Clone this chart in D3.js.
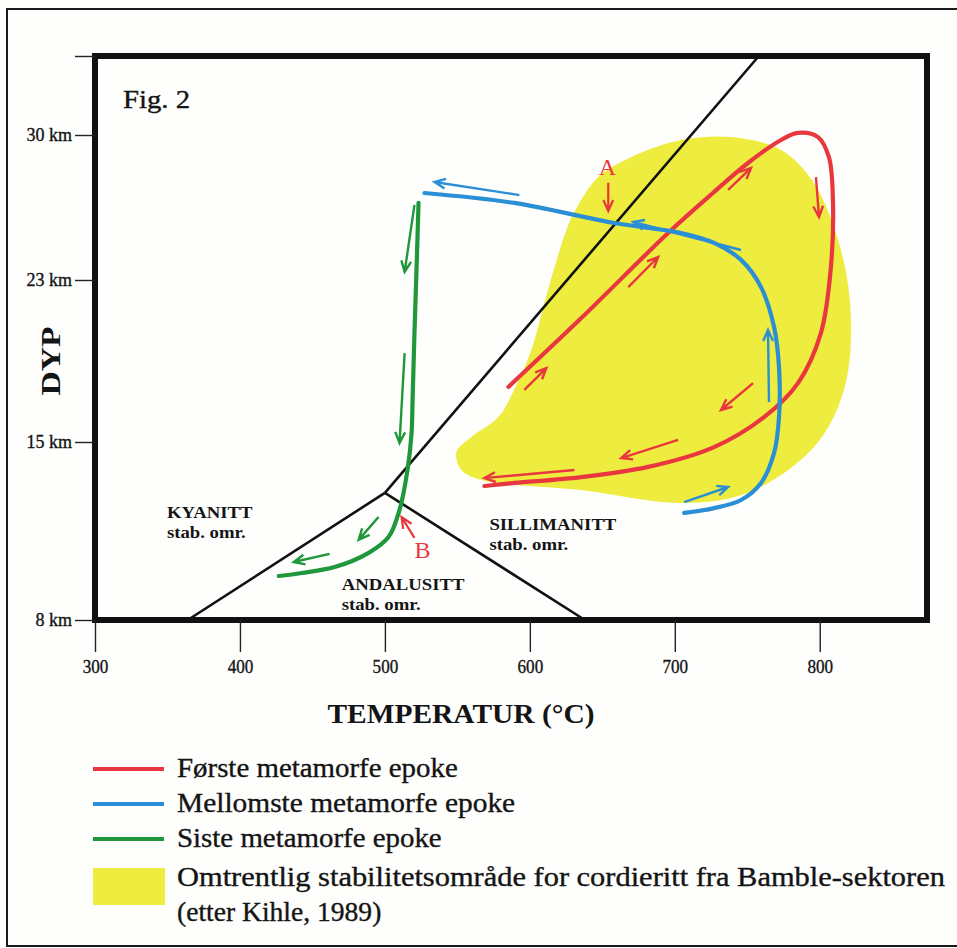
<!DOCTYPE html>
<html>
<head>
<meta charset="utf-8">
<script src="https://cdn.jsdelivr.net/npm/d3@7"></script>
<style>
html, body { margin: 0; padding: 0; background: #fefefd; }
svg { display: block; }
text { font-family: "Liberation Serif", "Times New Roman", serif; fill: #141414; }
.ink { stroke: #141414; stroke-width: 0.35px; }
</style>
</head>
<body>
<svg id="chart" width="957" height="948"></svg>
<script>
const tempTicks = [300, 400, 500, 600, 700, 800]
const depthTicks = [8, 15, 23, 30]
const depthLabels = ['8 km', '15 km', '23 km', '30 km']
const tempMin = 300
const tempMax = 874
const depthTop = 33.8

// phase boundaries (T in °C, depth in km)
const kyAnd = [[500, 13], [364, 8]]
const andSil = [[500, 13], [638, 8]]
const kySil = [[500, 13], [758, 33.8]]

// cordieritt stability field (outline)
const cordieritt = [
    [738.8, 29.9], [773.3, 29.28], [796, 27.68], [814.6, 24.45], [821.5, 21.17],
    [816.7, 17.57], [796, 14.8], [750.5, 13.0], [704.4, 12.6], [635.5, 13.11],
    [566.6, 13.51], [552.8, 13.9], [549.4, 14.61], [559.7, 15.25], [578.3, 16.23],
    [590.7, 17.81], [601, 19.54], [612.5, 22.51], [624.5, 25.27], [631.5, 26.38],
    [647.2, 27.97], [669.9, 28.94], [704.4, 29.76]
]

// P-T paths
const forste = [
    [585.2, 17.72], [635.5, 21.12], [695.4, 25.27], [727.1, 27.25], [750.5, 28.65],
    [773.3, 29.76], [785, 30.1], [798.8, 29.9], [806.3, 28.94], [809.1, 26.86],
    [807.7, 23.63], [800.8, 20.38], [785, 17.91], [761.6, 16.23], [727.1, 14.8],
    [681.6, 14.02], [635.5, 13.62], [589.3, 13.39], [568.7, 13.27]
]
const mellomste = [
    [706.5, 12.21], [727.1, 12.4], [745.7, 12.72], [759.5, 13.39], [768.5, 14.57],
    [771.9, 16.23], [771.9, 18.7], [768.5, 20.68], [759.5, 22.65], [745.7, 23.97],
    [727.1, 24.79], [704.4, 25.27], [658.2, 25.75], [589.3, 26.72], [527.3, 27.2]
]
const siste = [
    [523.2, 26.72], [521.8, 23.48], [520.4, 20.38], [519.1, 17.07], [518.4, 15.44],
    [515.6, 13.9], [510.1, 12.33], [502.5, 11.26], [488.8, 10.64], [465.3, 10.08],
    [442.6, 9.85], [426.8, 9.73]
]

// direction arrows [from, to]
const forsteArrows = [
    [[596.2, 17.57], [611.4, 18.65]],
    [[667.9, 22.65], [688.5, 24.11]],
    [[736.8, 27.35], [752.6, 28.41]],
    [[797.4, 27.97], [799.5, 26.04]],
    [[754.0, 17.91], [731.9, 16.58]],
    [[702.3, 15.1], [663.0, 14.37]],
    [[630.7, 13.9], [568.7, 13.58]]
]
const mellomsteArrows = [
    [[706.5, 12.64], [736.8, 13.23]],
    [[765.0, 16.98], [764.3, 20.53]],
    [[745.7, 24.45], [671.3, 25.8]],
    [[592.8, 27.1], [534.2, 27.73]]
]
const sisteArrows = [
    [[520.4, 26.62], [513.6, 23.39]],
    [[513.6, 19.39], [510.1, 14.96]],
    [[495.6, 12.05], [481.9, 11.15]],
    [[461.9, 10.6], [437.1, 10.28]]
]
const markA = { label: 'A', pos: [653.5, 28.05], arrow: [[654.1, 27.7], [654.1, 26.33]] }
const markB = { label: 'B', pos: [526.0, 10.44], arrow: [[520.4, 11.23], [511.5, 12.05]] }

const phaseNames = ['KYANITT', 'SILLIMANITT', 'ANDALUSITT']
const phasePos = [[349.6, 12.01], [572.1, 11.54], [470.2, 9.18]]
const phaseSub = 'stab. omr.'

const legendNames = ['Første metamorfe epoke', 'Mellomste metamorfe epoke', 'Siste metamorfe epoke']
const legendArea = ['Omtrentlig stabilitetsområde for cordieritt fra Bamble-sektoren', '(etter Kihle, 1989)']

const RED = '#e9373f'
const BLUE = '#2b8fd5'
const GREEN = '#1f973a'
const YELLOW = '#eeec3e'

const svg = d3.select('#chart')

const x = d3.scaleLinear().domain([tempMin, tempMax]).range([95, 927])
const y = d3.scaleLinear().domain([8, 15, 23, 30, depthTop]).range([620, 442, 280, 135, 56])

function stretch(sel, k) {
    sel.each(function () {
        const w = this.getComputedTextLength()
        d3.select(this).attr('textLength', w * k).attr('lengthAdjust', 'spacingAndGlyphs')
    })
}

function arrowPath(a, b) {
    const x0 = x(a[0]), y0 = y(a[1]), x1 = x(b[0]), y1 = y(b[1])
    const ang = Math.atan2(y0 - y1, x0 - x1)
    const L = 12, s = 0.42
    const p = d3.path()
    p.moveTo(x0, y0)
    p.lineTo(x1, y1)
    p.moveTo(x1 + L * Math.cos(ang + s), y1 + L * Math.sin(ang + s))
    p.lineTo(x1, y1)
    p.lineTo(x1 + L * Math.cos(ang - s), y1 + L * Math.sin(ang - s))
    return p.toString()
}

// outer page border
svg.append('rect')
    .attr('x', 7).attr('y', 9).attr('width', 960).attr('height', 937)
    .attr('fill', 'none').attr('stroke', '#1a1a1a').attr('stroke-width', 2)

const plot = svg.append('g')

// cordieritt field
plot.append('path')
    .datum(cordieritt)
    .attr('d', d3.line().x(d => x(d[0])).y(d => y(d[1])).curve(d3.curveCatmullRomClosed))
    .attr('fill', YELLOW)

// phase boundaries
const straight = d3.line().x(d => x(d[0])).y(d => y(d[1]))
plot.selectAll('path.phase')
    .data([kyAnd, andSil, kySil])
    .join('path')
    .attr('class', 'phase')
    .attr('d', straight)
    .attr('fill', 'none')
    .attr('stroke', '#111')
    .attr('stroke-width', 2.6)

// P-T paths
const smooth = d3.line().x(d => x(d[0])).y(d => y(d[1])).curve(d3.curveCatmullRom.alpha(0.5))
const paths = [
    { pts: forste, arrows: forsteArrows, color: RED },
    { pts: mellomste, arrows: mellomsteArrows, color: BLUE },
    { pts: siste, arrows: sisteArrows, color: GREEN }
]
paths.forEach(p => {
    plot.append('path')
        .datum(p.pts)
        .attr('d', smooth)
        .attr('fill', 'none')
        .attr('stroke', p.color)
        .attr('stroke-width', 4.2)
        .attr('stroke-linecap', 'round')
    plot.selectAll(null)
        .data(p.arrows)
        .join('path')
        .attr('d', d => arrowPath(d[0], d[1]))
        .attr('fill', 'none')
        .attr('stroke', p.color)
        .attr('stroke-width', 2.4)
})

// A and B markers
;[markA, markB].forEach(m => {
    plot.append('path')
        .attr('d', arrowPath(m.arrow[0], m.arrow[1]))
        .attr('fill', 'none')
        .attr('stroke', RED)
        .attr('stroke-width', 2.2)
    plot.append('text')
        .attr('x', x(m.pos[0]))
        .attr('y', y(m.pos[1]))
        .attr('text-anchor', 'middle')
        .style('font-size', '24px')
        .style('fill', RED)
        .text(m.label)
})

// phase labels
phaseNames.forEach((name, i) => {
    const g = plot.append('g')
        .attr('transform', `translate(${x(phasePos[i][0])},${y(phasePos[i][1])})`)
    g.append('text')
        .style('font-size', '17.5px').style('font-weight', 'bold')
        .text(name)
        .call(stretch, 1.07)
    g.append('text')
        .attr('y', 20)
        .style('font-size', '17.5px').style('font-weight', 'bold')
        .text(phaseSub)
        .call(stretch, 1.07)
})

svg.append('text')
    .attr('class', 'ink')
    .attr('x', 123).attr('y', 108)
    .style('font-size', '25px')
    .text('Fig. 2')
    .call(stretch, 1.15)

// frame
svg.append('rect')
    .attr('x', x(tempMin)).attr('y', y(depthTop))
    .attr('width', x(tempMax) - x(tempMin))
    .attr('height', y(8) - y(depthTop))
    .attr('fill', 'none')
    .attr('stroke', '#111')
    .attr('stroke-width', 6)

// x axis
const xAxis = svg.append('g')
    .attr('transform', `translate(0,${y(8)})`)
    .call(d3.axisBottom(x).tickValues(tempTicks).tickSize(32).tickPadding(8))
xAxis.select('.domain').remove()
xAxis.selectAll('.tick line').attr('stroke', '#222').attr('stroke-width', 1.4)
xAxis.selectAll('.tick text')
    .attr('class', 'ink')
    .style('font-size', '18px')
    .style('font-family', '"Liberation Serif", serif')
    .attr('fill', '#141414')
    .call(stretch, 0.95)

// y axis
const yAxis = svg.append('g')
    .attr('transform', `translate(${x(tempMin)},0)`)
    .call(d3.axisLeft(y).tickValues(depthTicks.concat([depthTop]))
        .tickSize(20).tickPadding(3)
        .tickFormat(d => {
            const i = depthTicks.indexOf(d)
            return i < 0 ? '' : depthLabels[i]
        }))
yAxis.select('.domain').remove()
yAxis.selectAll('.tick line').attr('stroke', '#222').attr('stroke-width', 1.4)
yAxis.selectAll('.tick text')
    .attr('class', 'ink')
    .style('font-size', '18px')
    .style('font-family', '"Liberation Serif", serif')
    .attr('fill', '#141414')

svg.append('text')
    .attr('transform', `translate(60,${(y(15) + y(23)) / 2}) rotate(-90)`)
    .attr('text-anchor', 'middle')
    .style('font-size', '28px').style('font-weight', 'bold')
    .text('DYP')
    .call(stretch, 1.2)

svg.append('text')
    .attr('x', (x(tempMin) + x(tempMax)) / 2 - 50)
    .attr('y', 723)
    .attr('text-anchor', 'middle')
    .style('font-size', '27.5px').style('font-weight', 'bold')
    .text('TEMPERATUR (°C)')
    .call(stretch, 1.07)

// legend
const legend = svg.append('g')
const legendColors = [RED, BLUE, GREEN]
const legendStretch = [1.09, 1.11, 1.09]
legendNames.forEach((name, i) => {
    const cy = 769 + i * 35
    legend.append('line')
        .attr('x1', 93).attr('x2', 164)
        .attr('y1', cy).attr('y2', cy)
        .attr('stroke', legendColors[i])
        .attr('stroke-width', 4)
    legend.append('text')
        .attr('class', 'ink')
        .attr('x', 177).attr('y', cy + 8)
        .style('font-size', '26.5px')
        .text(name)
        .call(stretch, legendStretch[i])
})
legend.append('rect')
    .attr('x', 93).attr('y', 868)
    .attr('width', 72).attr('height', 37)
    .attr('fill', YELLOW)
const areaStretch = [1.148, 1.04]
legendArea.forEach((t, i) => {
    legend.append('text')
        .attr('class', 'ink')
        .attr('x', 177).attr('y', 886 + i * 35)
        .style('font-size', '26.5px')
        .text(t)
        .call(stretch, areaStretch[i])
})
</script>
</body>
</html>
